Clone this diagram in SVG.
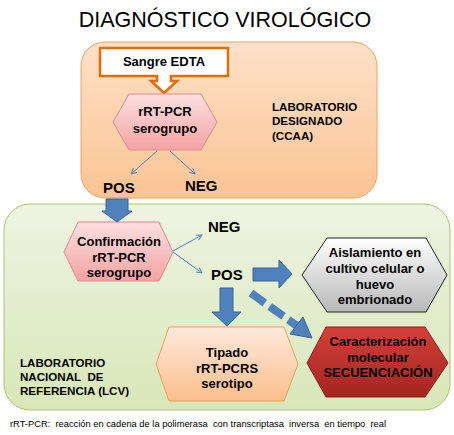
<svg xmlns="http://www.w3.org/2000/svg" width="454" height="435" viewBox="0 0 454 435">
<defs>
<linearGradient id="gOr" x1="0" y1="0" x2="0" y2="1"><stop offset="0" stop-color="#fde1c8"/><stop offset="1" stop-color="#fbc493"/></linearGradient>
<linearGradient id="gGr" x1="0" y1="0" x2="0" y2="1"><stop offset="0" stop-color="#eef4e2"/><stop offset="1" stop-color="#d8e7b8"/></linearGradient>
<linearGradient id="gPk" x1="0" y1="0" x2="0" y2="1"><stop offset="0" stop-color="#fde0e0"/><stop offset="1" stop-color="#f4a3a3"/></linearGradient>
<linearGradient id="gTp" x1="0" y1="0" x2="0" y2="1"><stop offset="0" stop-color="#fee9dc"/><stop offset="1" stop-color="#fbbf8c"/></linearGradient>
<linearGradient id="gGy" x1="0" y1="0" x2="0" y2="1"><stop offset="0" stop-color="#ffffff"/><stop offset="1" stop-color="#b8b8b8"/></linearGradient>
<linearGradient id="gRd" x1="0" y1="0" x2="0" y2="1"><stop offset="0" stop-color="#d4403a"/><stop offset="1" stop-color="#a42520"/></linearGradient>
<marker id="ah" viewBox="0 0 10 10" refX="9" refY="5" markerWidth="7" markerHeight="7" orient="auto" markerUnits="userSpaceOnUse"><path d="M1,1 L9,5 L1,9" fill="none" stroke="#4f81bd" stroke-width="1.3"/></marker>
</defs>
<style>
text{font-family:"Liberation Sans",Arial,sans-serif;fill:#000;}
.b{font-weight:bold;}
.c{text-anchor:middle;}
.thin{stroke:#4f81bd;stroke-width:1;fill:none;}
.blk{fill:#4f81bd;stroke:#3a6596;stroke-width:1;}
.lab{font-size:11.6px;font-weight:bold;}
.hx{font-size:13px;font-weight:bold;text-anchor:middle;}
</style>

<text x="225" y="27" class="c" font-size="21.5">DIAGNÓSTICO VIROLÓGICO</text>

<g id="lab-designado">
<rect x="81" y="42" width="296" height="156" rx="24" fill="url(#gOr)" stroke="#f5a05a" stroke-width="1"/>
<text class="lab" x="272" y="111">LABORATORIO</text>
<text class="lab" x="272" y="125">DESIGNADO</text>
<text class="lab" x="272" y="140">(CCAA)</text>
</g>

<g id="lab-referencia">
<rect x="4" y="204" width="446" height="206" rx="26" fill="url(#gGr)" stroke="#a9c66a" stroke-width="1"/>
<text class="lab" x="20" y="367">LABORATORIO</text>
<text class="lab" x="20" y="381" xml:space="preserve">NACIONAL  DE</text>
<text class="lab" x="20" y="395">REFERENCIA (LCV)</text>
</g>

<g id="sangre">
<path d="M100,48 H228 V76 H171 V81 H177 L164,93 L151,81 H157 V76 H100 Z" fill="#fff" stroke="#e46c0a" stroke-width="2.5" stroke-linejoin="miter"/>
<text x="164" y="66" class="c b" font-size="13">Sangre EDTA</text>
</g>

<g id="rrtpcr1">
<polygon points="113,122 129,94 201,94 217,122 201,150 129,150" fill="url(#gPk)" stroke="#e38b8b" stroke-width="1"/>
<text class="hx" x="165" y="116">rRT-PCR</text>
<text class="hx" x="165" y="133">serogrupo</text>
</g>

<g id="pos1"><text x="103" y="193" class="b" font-size="15">POS</text></g>
<g id="neg1"><text x="185" y="191" class="b" font-size="15">NEG</text></g>

<g id="confirmacion">
<polygon points="64,252 78,222 159,222 173,252 159,281 78,281" fill="url(#gPk)" stroke="#e38b8b" stroke-width="1"/>
<text class="hx" x="119" y="246">Confirmación</text>
<text class="hx" x="119" y="262">rRT-PCR</text>
<text class="hx" x="119" y="277">serogrupo</text>
</g>

<g id="neg2"><text x="208" y="232" class="b" font-size="15">NEG</text></g>
<g id="pos2"><text x="211" y="280" class="b" font-size="15">POS</text></g>

<g id="aislamiento">
<polygon points="302,275 327,238 426,238 447,275 426,312 327,312" fill="url(#gGy)" stroke="#222" stroke-width="1"/>
<text class="hx" x="375" y="257">Aislamiento en</text>
<text class="hx" x="375" y="273">cultivo celular o</text>
<text class="hx" x="375" y="289">huevo</text>
<text class="hx" x="375" y="304">embrionado</text>
</g>

<g id="tipado">
<polygon points="156,364 169,327 284,327 298,364 284,401 169,401" fill="url(#gTp)" stroke="#f59d56" stroke-width="1"/>
<text class="hx" x="227" y="357">Tipado</text>
<text class="hx" x="227" y="373">rRT-PCRS</text>
<text class="hx" x="227" y="388">serotipo</text>
</g>

<g id="caracterizacion">
<polygon points="307,363 326,327 425,327 448,363 425,397 326,397" fill="url(#gRd)" stroke="#8c1c18" stroke-width="1"/>
<text class="hx" x="378" y="346">Caracterización</text>
<text class="hx" x="378" y="362">molecular</text>
<text class="hx" x="378" y="377">SECUENCIACIÓN</text>
</g>

<g id="connectors">
<line class="thin" x1="157" y1="151" x2="131" y2="174" marker-end="url(#ah)"/>
<line class="thin" x1="170" y1="151" x2="195" y2="174" marker-end="url(#ah)"/>
<line class="thin" x1="173" y1="251" x2="202" y2="235" marker-end="url(#ah)"/>
<line class="thin" x1="173" y1="252" x2="202" y2="273" marker-end="url(#ah)"/>
<path class="blk" d="M106,199 H128 V211 H132 L117,222 L102,211 H106 Z"/>
<path class="blk" d="M253,268 H279 V260 L292,274 L279,288 V281 H253 Z"/>
<path class="blk" d="M220,288 H233 V312 H241 L227,326 L212,312 H220 Z"/>
<line x1="251" y1="293" x2="297" y2="326" stroke="#4f81bd" stroke-width="8" stroke-dasharray="17,6"/>
<polygon class="blk" points="312,338 290,334 303,317"/>
</g>

<text x="10" y="427" font-size="9.5" fill="#333" textLength="376" lengthAdjust="spacingAndGlyphs" xml:space="preserve">rRT-PCR:  reacción en cadena de la polimerasa  con transcriptasa  inversa  en tiempo  real</text>
</svg>
